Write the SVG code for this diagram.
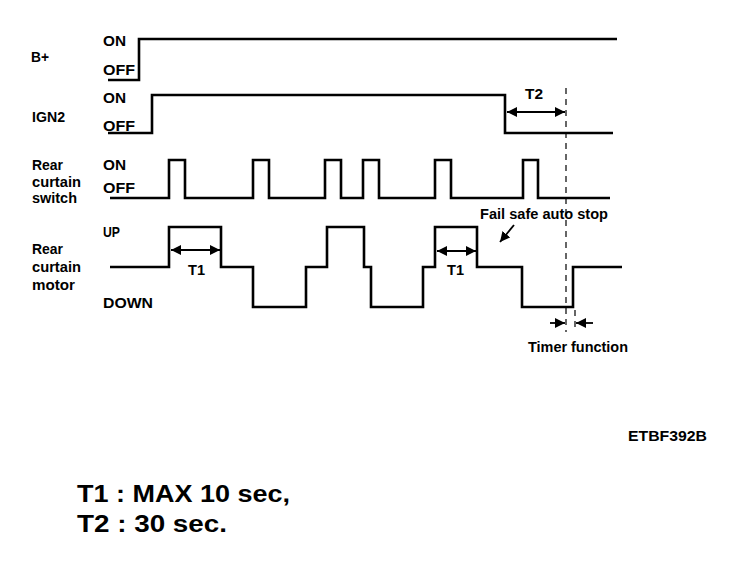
<svg xmlns="http://www.w3.org/2000/svg" width="752" height="568" viewBox="0 0 752 568">
<style>
.lbl{font-family:"Liberation Sans",Arial,sans-serif;font-size:14px;font-weight:bold;fill:#000}
.big{font-family:"Liberation Sans",Arial,sans-serif;font-size:23.5px;font-weight:bold;fill:#000}
.sig{fill:none;stroke:#000;stroke-width:2.6;stroke-linejoin:miter}
.dim{fill:none;stroke:#000;stroke-width:1.8}
.dash{fill:none;stroke:#000;stroke-width:1.2;stroke-dasharray:6 5}
</style>
<defs>
<marker id="ah" viewBox="0 0 10 10" refX="10" refY="5" markerWidth="10" markerHeight="10" markerUnits="userSpaceOnUse" orient="auto-start-reverse">
<path d="M0,0 L10,5 L0,10 z" fill="#000"/>
</marker>
</defs>
<rect width="752" height="568" fill="#fff"/>
<g id="bplus">
<text class="lbl" x="31" y="62" textLength="18" lengthAdjust="spacingAndGlyphs">B+</text>
<text class="lbl" x="103" y="46" textLength="23" lengthAdjust="spacingAndGlyphs">ON</text>
<text class="lbl" x="103" y="75" textLength="32" lengthAdjust="spacingAndGlyphs">OFF</text>
<path class="sig" d="M108,80 H139 V39 H617"/>
</g>
<g id="ign2">
<text class="lbl" x="32" y="122" textLength="33" lengthAdjust="spacingAndGlyphs">IGN2</text>
<text class="lbl" x="103" y="103" textLength="23" lengthAdjust="spacingAndGlyphs">ON</text>
<text class="lbl" x="103" y="131" textLength="32" lengthAdjust="spacingAndGlyphs">OFF</text>
<path class="sig" d="M108,133 H152 V95 H505 V133 H613"/>
</g>
<g id="switch">
<text class="lbl" x="32" y="170" textLength="31" lengthAdjust="spacingAndGlyphs">Rear</text>
<text class="lbl" x="32" y="187" textLength="49" lengthAdjust="spacingAndGlyphs">curtain</text>
<text class="lbl" x="32" y="203" textLength="45" lengthAdjust="spacingAndGlyphs">switch</text>
<text class="lbl" x="103" y="170" textLength="23" lengthAdjust="spacingAndGlyphs">ON</text>
<text class="lbl" x="103" y="193" textLength="32" lengthAdjust="spacingAndGlyphs">OFF</text>
<path class="sig" d="M110,198 H169 V160 H185 V198 H253 V160 H269 V198 H325 V160 H341 V198 H363 V160 H379 V198 H435 V160 H451 V198 H523 V160 H538 V198 H610"/>
</g>
<g id="motor">
<text class="lbl" x="32" y="254" textLength="31" lengthAdjust="spacingAndGlyphs">Rear</text>
<text class="lbl" x="32" y="272" textLength="49" lengthAdjust="spacingAndGlyphs">curtain</text>
<text class="lbl" x="32" y="290" textLength="43" lengthAdjust="spacingAndGlyphs">motor</text>
<text class="lbl" x="103" y="237" textLength="17" lengthAdjust="spacingAndGlyphs">UP</text>
<text class="lbl" x="103" y="308" textLength="50" lengthAdjust="spacingAndGlyphs">DOWN</text>
<path class="sig" d="M110,267 H169 V227 H221 V267 H253 V307 H306 V267 H327 V227 H364 V267 H371 V307 H423 V267 H435 V227 H477 V267 H522 V307 H573 V267 H622"/>
</g>
<g id="connectors">
<line class="dash" x1="566" y1="88" x2="566" y2="332"/>
<line class="dash" x1="575" y1="310" x2="575" y2="332"/>
<line class="dim" x1="507" y1="112" x2="565" y2="112" marker-start="url(#ah)" marker-end="url(#ah)"/>
<line class="dim" x1="171" y1="250" x2="220" y2="250" marker-start="url(#ah)" marker-end="url(#ah)"/>
<line class="dim" x1="437" y1="251" x2="476" y2="251" marker-start="url(#ah)" marker-end="url(#ah)"/>
<line class="dim" x1="514" y1="225" x2="500" y2="242" marker-end="url(#ah)"/>
<line class="dim" x1="550" y1="323" x2="565" y2="323" marker-end="url(#ah)"/>
<line class="dim" x1="593" y1="323" x2="576" y2="323" marker-end="url(#ah)"/>
</g>
<g id="annotations">
<text class="lbl" x="525" y="99" textLength="18" lengthAdjust="spacingAndGlyphs">T2</text>
<text class="lbl" x="188" y="275" textLength="17" lengthAdjust="spacingAndGlyphs">T1</text>
<text class="lbl" x="447" y="275" textLength="17" lengthAdjust="spacingAndGlyphs">T1</text>
<text class="lbl" x="480" y="219" textLength="128" lengthAdjust="spacingAndGlyphs">Fail safe auto stop</text>
<text class="lbl" x="528" y="352" textLength="100" lengthAdjust="spacingAndGlyphs">Timer function</text>
<text class="lbl" x="628" y="441" font-size="13" textLength="79" lengthAdjust="spacingAndGlyphs">ETBF392B</text>
<text class="big" x="77" y="502" textLength="213" lengthAdjust="spacingAndGlyphs">T1 : MAX 10 sec,</text>
<text class="big" x="77" y="532" textLength="150" lengthAdjust="spacingAndGlyphs">T2 : 30 sec.</text>
</g>
</svg>
